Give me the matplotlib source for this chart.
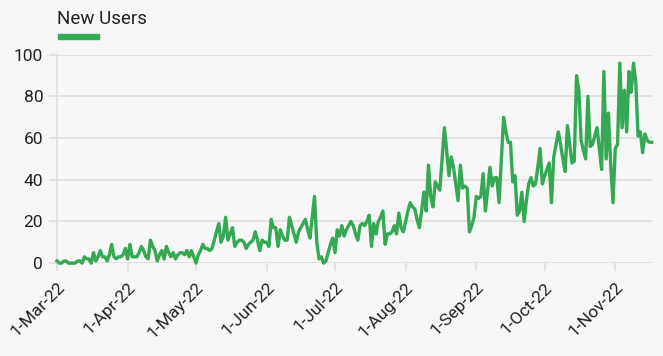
import pandas as pd
import matplotlib
matplotlib.use("Agg")
import matplotlib.pyplot as plt
import matplotlib.dates as mdates
from matplotlib.patches import Rectangle

# daily new users, 1-Mar-22 .. 17-Nov-22
start_date = "2022-03-01"
series_name = "New Users"
new_users = [
    1, 0, 0, 1, 1, 0, 0, 0, 0, 1,
    1, 0, 3, 2, 2, 0, 5, 1, 3, 6,
    3, 3, 1, 4, 9, 3, 2, 3, 3, 4,
    7, 2, 9, 3, 3, 3, 5, 8, 6, 3,
    2, 11, 8, 6, 1, 4, 6, 2, 8, 5,
    3, 5, 2, 4, 5, 5, 4, 6, 3, 6,
    3, 0, 4, 6, 9, 7, 7, 6, 7, 11,
    15, 19, 10, 13, 22, 11, 14, 17, 8, 10,
    11, 11, 10, 7, 9, 10, 11, 15, 11, 6,
    11, 10, 10, 8, 21, 17, 17, 8, 16, 13,
    11, 11, 22, 18, 14, 10, 15, 17, 19, 21,
    16, 12, 22, 32, 10, 2, 3, 0, 1, 5,
    9, 12, 5, 16, 13, 18, 13, 16, 18, 20,
    18, 14, 11, 18, 19, 18, 20, 23, 8, 19,
    14, 20, 22, 25, 9, 14, 14, 15, 18, 14,
    24, 17, 15, 20, 25, 29, 27, 26, 21, 17,
    25, 34, 25, 47, 32, 27, 39, 37, 35, 50,
    65, 54, 42, 51, 46, 38, 30, 47, 36, 37,
    36, 15, 18, 22, 32, 31, 32, 43, 25, 35,
    46, 37, 41, 41, 29, 50, 70, 63, 58, 58,
    39, 42, 23, 25, 34, 20, 30, 38, 41, 37,
    38, 46, 55, 38, 42, 45, 48, 29, 51, 57,
    63, 57, 50, 44, 66, 57, 48, 49, 90, 83,
    59, 54, 50, 80, 56, 57, 61, 65, 55, 45,
    92, 50, 72, 47, 29, 55, 57, 96, 65, 83,
    63, 92, 82, 96, 87, 61, 63, 53, 62, 59,
    58, 58,
]
dates = pd.date_range(start_date, periods=len(new_users), freq="D")
month_ticks = pd.date_range("2022-03-01", "2022-11-01", freq="MS")
y_ticks = [0, 20, 40, 60, 80, 100]

bg = "#f7f7f7"
green = "#34a853"
grid_c = "#dedede"
text_c = "#222222"

plt.rcParams["font.family"] = ["Roboto", "DejaVu Sans"]

fig = plt.figure(figsize=(6.63, 3.56), dpi=100, facecolor=bg)
ax = fig.add_axes([0.086, 0.261, 0.897, 0.585], facecolor=bg)

ax.plot(dates, new_users, color=green, linewidth=2.4, clip_on=False, zorder=3,
        solid_joinstyle="round")

ax.set_xlim(dates[0], dates[-1])
ax.set_ylim(0, 100)
ax.set_yticks(y_ticks)
ax.set_xticks(month_ticks)
ax.xaxis.set_major_formatter(mdates.DateFormatter("%-d-%b-%y"))

ax.grid(axis="y", color=grid_c, linewidth=1.2)
ax.set_axisbelow(True)
for s in ["top", "right", "bottom"]:
    ax.spines[s].set_visible(False)
ax.spines["left"].set_color(grid_c)
ax.spines["left"].set_linewidth(1.2)

ax.tick_params(axis="y", length=6, width=1.2, color=grid_c, labelsize=12.5,
               labelcolor=text_c, pad=4)
ax.tick_params(axis="x", length=6, width=1.2, color=grid_c, labelsize=12.5,
               labelcolor=text_c, pad=6)
for lbl in ax.get_xticklabels():
    lbl.set_rotation(45)
    lbl.set_ha("right")
    lbl.set_rotation_mode("anchor")

# legend
fig.text(57 / 663, 1 - 24 / 356, series_name, fontsize=13.5, color=text_c,
         ha="left", va="baseline")
fig.patches.append(Rectangle((58 / 663, 1 - 39 / 356), 41 / 663, 5 / 356,
                             transform=fig.transFigure, color=green))

fig.savefig("out.png", dpi=100, facecolor=bg)
